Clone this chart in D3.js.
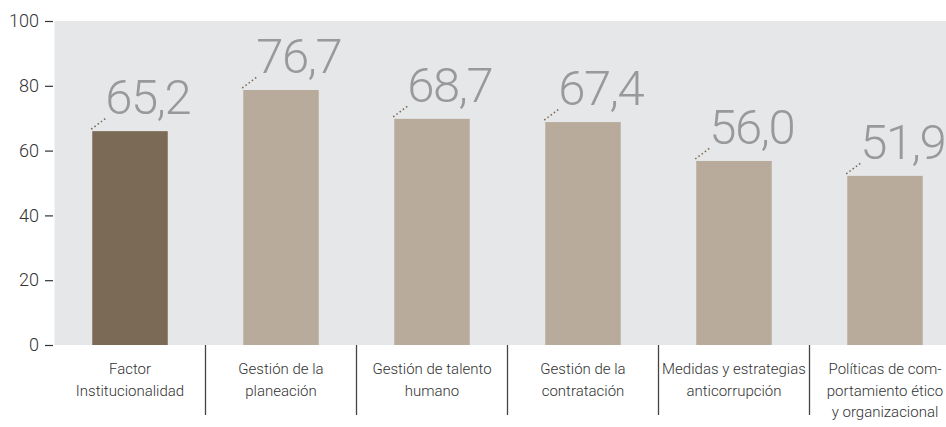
<!DOCTYPE html>
<html>
<head>
<meta charset="utf-8">
<script src="https://cdn.jsdelivr.net/npm/d3@7"></script>
<style>
  html, body { margin: 0; padding: 0; background: #fff; }
  svg text { font-family: Roboto, "Open Sans", sans-serif; }
</style>
</head>
<body>
<div id="chart"></div>
<script>
// categories, shown on two or three lines
const categories = [
  "Factor Institucionalidad",
  "Gestión de la planeación",
  "Gestión de talento humano",
  "Gestión de la contratación",
  "Medidas y estrategias anticorrupción",
  "Políticas de comportamiento ético y organizacional"
];
const categoryLines = [
  ["Factor", "Institucionalidad"],
  ["Gestión de la", "planeación"],
  ["Gestión de talento", "humano"],
  ["Gestión de la", "contratación"],
  ["Medidas y estrategias", "anticorrupción"],
  ["Políticas de com-", "portamiento ético", "y organizacional"]
];
// printed values
const labelValues = [65.2, 76.7, 68.7, 67.4, 56.0, 51.9];
// bar heights as drawn in the picture
const barValues = [66.0, 78.7, 69.8, 68.8, 56.8, 52.2];
const yTicks = [0, 20, 40, 60, 80, 100];

const width = 946, height = 427;
const plot = { left: 54.5, top: 21, bottom: 345 };

const svg = d3.select("#chart").append("svg")
  .attr("width", width)
  .attr("height", height);

// background panel
svg.append("rect")
  .attr("x", plot.left)
  .attr("y", plot.top)
  .attr("width", width - plot.left)
  .attr("height", plot.bottom - plot.top)
  .attr("fill", "#e6e7e9");

const x = d3.scaleBand()
  .domain(categories)
  .range([plot.left, plot.left + 906])
  .paddingInner(0.5)
  .paddingOuter(0.25);

const y = d3.scaleLinear()
  .domain([0, 100])
  .range([plot.bottom, plot.top]);

// y axis: ticks only, no domain line
const yAxis = svg.append("g")
  .attr("transform", `translate(${plot.left - 1.5},0)`)
  .call(d3.axisLeft(y).tickValues(yTicks).tickSize(8).tickPadding(6).tickFormat(d3.format("d")));
yAxis.select(".domain").remove();
yAxis.selectAll(".tick line").attr("stroke", "#333").attr("stroke-width", 1.2);
yAxis.selectAll(".tick text")
  .attr("fill", "#333")
  .style("font-size", "18px")
  .style("font-weight", 300)
  .style("font-family", "Roboto, sans-serif");

// bars
svg.append("g").selectAll("rect")
  .data(categories)
  .enter()
  .append("rect")
  .attr("x", d => x(d))
  .attr("y", (d, i) => y(barValues[i]))
  .attr("width", x.bandwidth())
  .attr("height", (d, i) => y(0) - y(barValues[i]))
  .attr("fill", (d, i) => i === 0 ? "#7b6a55" : "#b8ab9b");

// dotted leader lines
svg.append("g").selectAll("line")
  .data(categories)
  .enter()
  .append("line")
  .attr("x1", d => x(d) - 1)
  .attr("y1", (d, i) => y(barValues[i]) - 2)
  .attr("x2", d => x(d) + 15)
  .attr("y2", (d, i) => y(barValues[i]) - 14)
  .attr("stroke", "#7b6a55")
  .attr("stroke-width", 1.6)
  .attr("stroke-dasharray", "1.5,2.5");

// value labels
svg.append("g").selectAll("text")
  .data(categories)
  .enter()
  .append("text")
  .attr("x", d => x(d) + 13)
  .attr("y", (d, i) => y(barValues[i]) - 17)
  .attr("fill", "#98999b")
  .style("font-size", "49px")
  .style("font-weight", 300)
  .style("letter-spacing", "-1.5px")
  .text((d, i) => labelValues[i].toFixed(1).replace(".", ","));

// separators between categories
const step = x.step();
svg.append("g").selectAll("line")
  .data(categories.slice(1))
  .enter()
  .append("line")
  .attr("x1", d => x(d) - step * 0.25)
  .attr("x2", d => x(d) - step * 0.25)
  .attr("y1", plot.bottom)
  .attr("y2", 415)
  .attr("stroke", "#444")
  .attr("stroke-width", 1.3);

// category labels
const catG = svg.append("g").selectAll("text")
  .data(categories)
  .enter()
  .append("text")
  .attr("text-anchor", "middle")
  .attr("fill", "#333")
  .style("font-size", "15px")
  .style("font-weight", 300);

catG.selectAll("tspan")
  .data((d, i) => categoryLines[i].map(t => ({ t, c: d })))
  .enter()
  .append("tspan")
  .attr("x", d => x(d.c) + x.bandwidth() / 2)
  .attr("y", (d, j) => 374 + j * 21.5)
  .text(d => d.t);
</script>
</body>
</html>
